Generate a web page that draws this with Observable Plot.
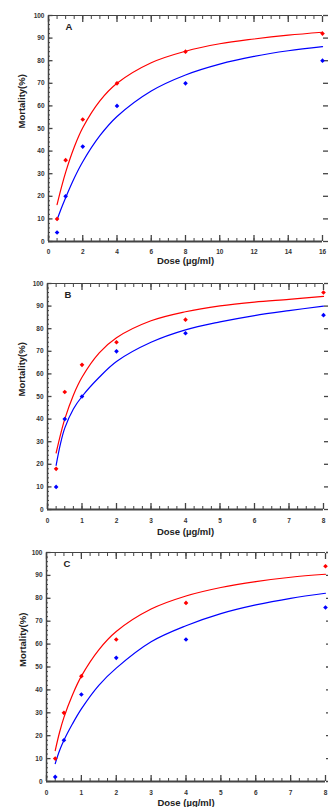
<!DOCTYPE html>
<html><head><meta charset="utf-8">
<script src="https://cdn.jsdelivr.net/npm/d3@7"></script>
<script src="https://cdn.jsdelivr.net/npm/@observablehq/plot@0.6"></script>
<style>
body{margin:0;background:#fff;font-family:"Liberation Sans",Arial,sans-serif;}
#chart{width:328px;}
#chart svg{display:block;}
</style></head><body><div id="chart"></div>
<script>
// ---------- data ----------
const yLabel = "Mortality(%)";
const xLabel = "Dose (µg/ml)";
const yDomain = [0, 100];
const yMajor = [0, 10, 20, 30, 40, 50, 60, 70, 80, 90, 100];

// Panel A
const letterA = "A";
const xDomainA = [0, 16];
const xTicksA = [0, 2, 4, 6, 8, 10, 12, 14, 16];
const doseA = [0.5, 1, 2, 4, 8, 16];
const redA = [10, 36, 54, 70, 84, 92];
const blueA = [4, 20, 42, 60, 70, 80];
const fitDoseA = [0.5, 0.75, 1, 1.5, 2, 3, 4, 6, 8, 10, 12, 14, 16];
const fitRedA = [16.3, 23.8, 30.6, 41.7, 50.3, 62.2, 70, 79.1, 84.2, 87.5, 89.6, 91.3, 92.6];
const fitBlueA = [9.6, 14.7, 19.4, 28, 35.3, 46.8, 55.3, 66.6, 73.7, 78.5, 81.9, 84.4, 86.2];

// Panel B
const letterB = "B";
const xDomainB = [0, 8];
const xTicksB = [0, 1, 2, 3, 4, 5, 6, 7, 8];
const doseB = [0.25, 0.5, 1, 2, 4, 8];
const redB = [18, 52, 64, 74, 84, 96];
const blueB = [10, 40, 50, 70, 78, 86];
const fitDoseB = [0.25, 0.375, 0.5, 0.75, 1, 1.5, 2, 3, 4, 5, 6, 7, 8];
const fitRedB = [25, 33, 40, 50.6, 58.5, 69.3, 76, 83.5, 87.5, 90.1, 91.8, 93, 94.3];
const fitBlueB = [19.5, 29, 36, 44.5, 50, 58.5, 65.5, 74, 79.5, 83, 85.8, 88, 90];

// Panel C
const letterC = "C";
const xDomainC = [0, 8];
const xTicksC = [0, 1, 2, 3, 4, 5, 6, 7, 8];
const doseC = [0.25, 0.5, 1, 2, 4, 8];
const redC = [10, 30, 46, 62, 78, 94];
const blueC = [2, 18, 38, 54, 62, 76];
const fitDoseC = [0.25, 0.375, 0.5, 0.75, 1, 1.5, 2, 3, 4, 5, 6, 7, 8];
const fitRedC = [13.5, 21.5, 28, 38, 46, 57.5, 65.5, 75.3, 81, 84.7, 87.3, 89.2, 90.5];
const fitBlueC = [7.8, 13.5, 18, 25.3, 31.7, 42, 49.5, 61, 68, 73.3, 77.1, 80, 82.2];

// ---------- drawing ----------
const RED = "#ff0000", BLUE = "#0000ff";
const AX = "#444", TXT = "#333";
const yMinor = d3.range(0, 100.001, 2);

function pairs(xs, ys) { return xs.map((x, i) => ({x, y: ys[i]})); }

function panel(c) {
  const xMinor = d3.range(c.xDomain[0], c.xDomain[1] + 1e-9, c.minorStep);
  return Plot.plot({
    width: 328, height: c.height,
    marginTop: c.mt, marginBottom: c.mb, marginLeft: c.ml, marginRight: c.mr,
    style: {fontFamily: '"Liberation Sans", Arial, sans-serif', color: TXT, background: "#fff", overflow: "visible"},
    x: {domain: c.xDomain},
    y: {domain: yDomain},
    marks: [
      Plot.ruleY([yDomain[1]], {stroke: AX, strokeWidth: 1}),
      Plot.ruleX([c.xDomain[0]], {stroke: AX, strokeWidth: 1.5}),
      Plot.ruleY([yDomain[0]], {stroke: AX, strokeWidth: 2}),
      Plot.axisX(c.xTicks, {anchor: "bottom", tickSize: -6, fill: "none", stroke: AX, strokeWidth: 1.3, label: null}),
      Plot.axisX(xMinor, {anchor: "bottom", tickSize: -3, fill: "none", stroke: AX, label: null}),
      Plot.axisX(c.xTicks, {anchor: "top", tickSize: -6, fill: "none", stroke: AX, strokeWidth: 1.3, label: null}),
      Plot.axisX(xMinor, {anchor: "top", tickSize: -3, fill: "none", stroke: AX, label: null}),
      Plot.axisX(c.xTicks, {anchor: "bottom", tickSize: 0, tickPadding: c.xPad, fontSize: 6.5, fontWeight: "bold", fill: TXT, label: null}),
      Plot.axisY(yMajor, {anchor: "left", tickSize: -4.5, fill: "none", stroke: AX, strokeWidth: 1.3, label: null}),
      Plot.axisY(yMinor, {anchor: "left", tickSize: -2, fill: "none", stroke: AX, label: null}),
      Plot.axisY(yMajor, {anchor: "left", tickSize: 0, tickPadding: 4, fontSize: 6.5, fontWeight: "bold", fill: TXT, label: null}),
      Plot.axisY(yMajor, {anchor: "right", tickSize: 5, fill: "none", stroke: AX, strokeWidth: 1.3, label: null}),
      Plot.line(pairs(c.fitDose, c.fitRed), {x: "x", y: "y", stroke: RED, strokeWidth: 1.2, curve: "catmull-rom"}),
      Plot.line(pairs(c.fitDose, c.fitBlue), {x: "x", y: "y", stroke: BLUE, strokeWidth: 1.2, curve: "catmull-rom"}),
      Plot.dot(pairs(c.dose, c.red), {x: "x", y: "y", symbol: "diamond2", r: 2.1, fill: RED, stroke: "none"}),
      Plot.dot(pairs(c.dose, c.blue), {x: "x", y: "y", symbol: "diamond2", r: 2.1, fill: BLUE, stroke: "none"}),
      Plot.text([c.letter], {frameAnchor: "top-left", dx: 17, dy: 11, fontSize: 9.5, fontWeight: "bold", fill: "#222", text: d => d, lineAnchor: "middle"}),
      Plot.text([xLabel], {frameAnchor: "bottom", dy: c.xlabDy, fontSize: 9.5, fontWeight: "bold", fill: "#222", text: d => d, lineAnchor: "middle"}),
      Plot.text([yLabel], {frameAnchor: "left", dx: c.ylabDx, rotate: -90, fontSize: 9.5, fontWeight: "bold", fill: "#222", text: d => d, lineAnchor: "middle"})
    ]
  });
}

const root = document.getElementById("chart");
root.appendChild(panel({letter: letterA, xDomain: xDomainA, xTicks: xTicksA, minorStep: 0.5,
  dose: doseA, red: redA, blue: blueA, fitDose: fitDoseA, fitRed: fitRedA, fitBlue: fitBlueA,
  height: 268, mt: 15, mb: 27, ml: 48, mr: 6, xPad: 8, xlabDy: 19.7, ylabDx: -27}));
root.appendChild(panel({letter: letterB, xDomain: xDomainB, xTicks: xTicksB, minorStep: 0.25,
  dose: doseB, red: redB, blue: blueB, fitDose: fitDoseB, fitRed: fitRedB, fitBlue: fitBlueB,
  height: 271, mt: 15, mb: 30, ml: 47, mr: 5, xPad: 9, xlabDy: 22.7, ylabDx: -26}));
root.appendChild(panel({letter: letterC, xDomain: xDomainC, xTicks: xTicksC, minorStep: 0.25,
  dose: doseC, red: redC, blue: blueC, fitDose: fitDoseC, fitRed: fitRedC, fitBlue: fitBlueC,
  height: 268, mt: 13, mb: 26, ml: 46, mr: 3, xPad: 8.5, xlabDy: 21.7, ylabDx: -24}));
</script>
</body></html>
